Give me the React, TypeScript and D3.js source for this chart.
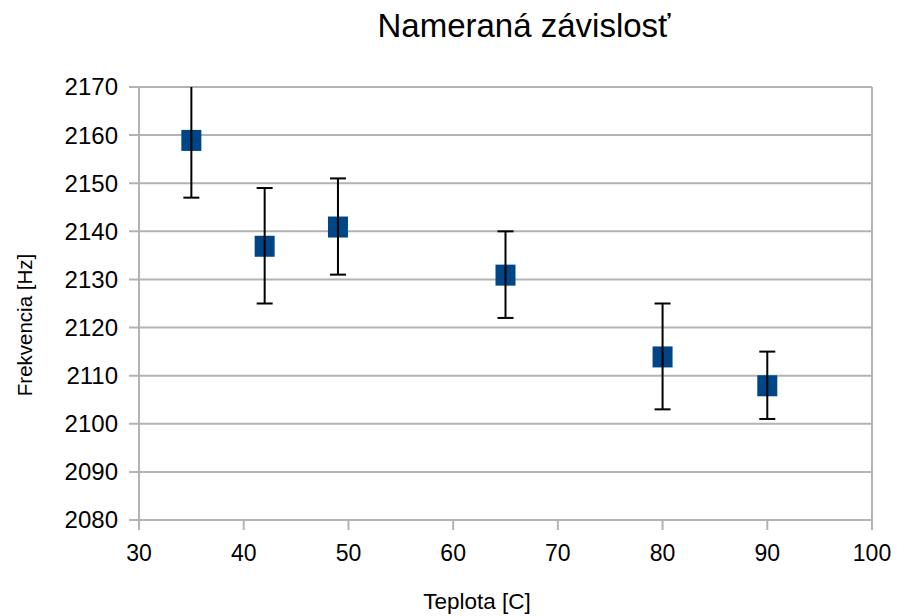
import React from 'react';
import * as d3 from 'd3';

const teplota = [35, 42, 49, 65, 80, 90];
const frekvencia = [2159, 2137, 2141, 2131, 2114, 2108];
const chyba = [12, 12, 10, 9, 11, 7];
const xTicks = [30, 40, 50, 60, 70, 80, 90, 100];
const yTicks = [2080, 2090, 2100, 2110, 2120, 2130, 2140, 2150, 2160, 2170];

const W = 897, H = 616;
const plot = { left: 139, right: 872, top: 87, bottom: 520 };
const grid = '#b3b3b3';
const font = '"Liberation Sans", Arial, sans-serif';

export default function App() {
  const x = d3.scaleLinear().domain([30, 100]).range([plot.left, plot.right]);
  const y = d3.scaleLinear().domain([2080, 2170]).range([plot.bottom, plot.top]);
  const pts = teplota.map((t, i) => ({ t, f: frekvencia[i], e: chyba[i] }));
  const mk = 20, cap = 16;

  return (
    <svg width={W} height={H} style={{ position: 'absolute', left: 0, top: 0 }} fontFamily={font}>
      <rect width={W} height={H} fill="#fff" />
      <defs>
        <clipPath id="pa">
          <rect x={plot.left} y={plot.top} width={plot.right - plot.left} height={plot.bottom - plot.top} />
        </clipPath>
      </defs>

      {/* horizontal grid + y ticks */}
      {yTicks.map(v => (
        <g key={v}>
          <line x1={plot.left - 10} x2={plot.right} y1={y(v)} y2={y(v)} stroke={grid} strokeWidth={2} />
          <text x={plot.left - 21} y={y(v)} dy="0.35em" textAnchor="end" fontSize={24} fill="#000">{v}</text>
        </g>
      ))}
      {/* axis lines */}
      <line x1={plot.left} x2={plot.left} y1={plot.top} y2={plot.bottom + 10} stroke={grid} strokeWidth={2} />
      <line x1={plot.right} x2={plot.right} y1={plot.top} y2={plot.bottom} stroke={grid} strokeWidth={2} />
      {xTicks.map(v => (
        <g key={v}>
          <line x1={x(v)} x2={x(v)} y1={plot.bottom} y2={plot.bottom + 10} stroke={grid} strokeWidth={2} />
          <text x={x(v)} y={561} textAnchor="middle" fontSize={23} fill="#000">{v}</text>
        </g>
      ))}

      {/* markers */}
      {pts.map(d => (
        <rect key={'m' + d.t} x={x(d.t) - mk / 2} y={y(d.f) - mk / 2} width={mk} height={mk + 1} fill="#004586" />
      ))}

      {/* error bars */}
      <g clipPath="url(#pa)" stroke="#000" strokeWidth={2}>
        {pts.map(d => (
          <g key={'e' + d.t}>
            <line x1={x(d.t)} x2={x(d.t)} y1={y(d.f + d.e)} y2={y(d.f - d.e)} />
            {d.f + d.e <= 2170 && (
              <line x1={x(d.t) - cap / 2} x2={x(d.t) + cap / 2} y1={y(d.f + d.e)} y2={y(d.f + d.e)} />
            )}
            <line x1={x(d.t) - cap / 2} x2={x(d.t) + cap / 2} y1={y(d.f - d.e)} y2={y(d.f - d.e)} />
          </g>
        ))}
      </g>

      {/* titles */}
      <text x={524} y={37} textAnchor="middle" fontSize={33} fill="#000">Nameraná závislosť</text>
      <text x={477} y={609} textAnchor="middle" fontSize={22.5} fill="#000">Teplota [C]</text>
      <text transform="translate(32,325) rotate(-90)" textAnchor="middle" fontSize={20.5} fill="#000">Frekvencia [Hz]</text>
    </svg>
  );
}
